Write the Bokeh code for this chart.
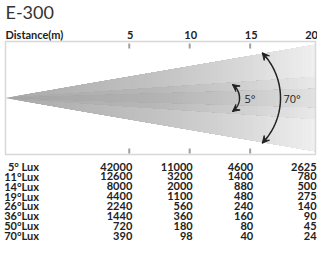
import numpy as np
from bokeh.plotting import figure
from bokeh.models import Range1d, Arrow, VeeHead
from bokeh.core.properties import value
from bokeh.embed import file_html
from bokeh.resources import INLINE

# ---------------- data ----------------
title = "E-300"
axis_label = "Distance(m)"
distances = [5, 10, 15, 20]
row_labels = ["5° Lux", "11°Lux", "14°Lux", "19°Lux", "26°Lux", "36°Lux", "50°Lux", "70°Lux"]
lux_5m = [42000, 12600, 8000, 4400, 2240, 1440, 720, 390]
lux_10m = [11000, 3200, 2000, 1100, 560, 360, 180, 98]
lux_15m = [4600, 1400, 880, 480, 240, 160, 80, 40]
lux_20m = [2625, 780, 500, 275, 140, 90, 45, 24]
beam_labels = ["5°", "70°"]

# ---------------- layout helpers ----------------
W, H = 317, 243
K = 12.09            # px per metre
X0 = -5.65           # metre at left edge of figure
PX_OFF = 8           # page offset

def m_of(px):        # page px -> metre
    return X0 + (px - PX_OFF) / K

p = figure(width=W, height=H, frame_width=W, frame_height=H,
           output_backend="svg", toolbar_location=None, title=None,
           x_axis_location=None, y_axis_location=None,
           x_range=Range1d(X0, X0 + W / K), y_range=Range1d(8 + H, 8),
           min_border=0, outline_line_color=None)
p.grid.visible = False
p.background_fill_color = "white"
p.border_fill_color = "white"

apex_m = m_of(13)
end_m = m_of(323)
yc = 105.5
box_top, box_bot = 49, 162

# ---------------- beam with gradient ----------------
def gray_hex(g):
    g = int(round(max(0, min(255, g))))
    return "#%02x%02x%02x" % (g, g, g)

wedges = [
    # slope (px/px), gray control points (page x, level)
    (0.172, [13, 50, 160, 240, 323], [168, 176, 194, 214, 240]),
    (0.068, [13, 50, 160, 240, 323], [166, 172, 183, 205, 234]),
    (0.030, [13, 50, 160, 240, 323], [164, 168, 178, 198, 226]),
]
n = 70
for slope, gx, gv in wedges:
    xs_list, ys_list, cols = [], [], []
    edges = np.linspace(apex_m, end_m, n + 1)[:-1]
    for xi in edges:
        h0 = slope * (xi - apex_m) * K
        h1 = slope * (end_m - apex_m) * K
        xs_list.append([xi, end_m, end_m, xi])
        ys_list.append([yc - h0, yc - h1, yc + h1, yc + h0])
        pxi = PX_OFF + (xi - X0) * K
        cols.append(gray_hex(np.interp(pxi, gx, gv)))
    p.patches(xs_list, ys_list, fill_color=cols, line_color=None)

# box border
p.quad(left=[apex_m], right=[end_m], top=[box_top], bottom=[box_bot],
       fill_color=None, line_color="#d8d8d8", line_width=1.5)

# inner tick marks
tick_d = distances[:-1]
p.segment(x0=tick_d, x1=tick_d, y0=[51] * 3, y1=[56] * 3, line_color="#a0a0a0", line_width=2)
p.segment(x0=tick_d, x1=tick_d, y0=[156] * 3, y1=[161] * 3, line_color="#a0a0a0", line_width=2)

# ---------------- angle arcs ----------------
def arc(peak_m, r_px, half_deg, label, label_gap):
    cx_px = PX_OFF + (peak_m - X0) * K - r_px
    th = np.radians(np.linspace(-half_deg, half_deg, 60))
    xs = [m_of(cx_px + r_px * np.cos(t)) for t in th]
    ys = [yc + r_px * np.sin(t) for t in th]
    p.line(xs, ys, line_color="#222222", line_width=1.5)
    for sgn in (-1, 1):
        t_end = np.radians(sgn * half_deg)
        t_in = np.radians(sgn * (half_deg - 6))
        head = VeeHead(size=7, fill_color="#222222", line_color="#222222", line_width=1)
        p.add_layout(Arrow(end=head,
                           x_start=m_of(cx_px + r_px * np.cos(t_in)), y_start=yc + r_px * np.sin(t_in),
                           x_end=m_of(cx_px + r_px * np.cos(t_end)), y_end=yc + r_px * np.sin(t_end),
                           line_color="#222222", line_width=1.5))
    p.text(x=[peak_m + label_gap / K], y=[yc], text=[label], text_font=value("Open Sans"),
           text_font_size="11px", text_color="#222222", text_baseline="middle", text_align="left")

arc(m_of(247), 16.5, 55, beam_labels[0], 5)
arc(m_of(288), 65, 44, beam_labels[1], 3)

# ---------------- texts ----------------
p.text(x=[apex_m], y=[8], text=[title], text_font=value("Lato"), text_font_size="18px",
       text_color="#333333", text_baseline="top", text_align="left")
p.text(x=[apex_m], y=[42], text=[axis_label], text_font=value("Lato"), text_font_size="11px",
       text_font_style="bold", text_color="#222222", text_baseline="middle", text_align="left")
p.text(x=distances, y=[42] * 4, text=[str(d) for d in distances], text_font=value("Lato"),
       text_font_size="11px", text_font_style="bold", text_color="#222222",
       text_baseline="middle", text_align="center", x_offset=1)

# ---------------- table ----------------
row_y = [174 + i * 9.86 for i in range(len(row_labels))]
p.text(x=[m_of(46.5)] * len(row_labels), y=row_y, text=row_labels, text_font=value("Lato"),
       text_font_size="11px", text_font_style="bold", text_color="#222222",
       text_baseline="middle", text_align="right")
for d, col in zip(distances, [lux_5m, lux_10m, lux_15m, lux_20m]):
    p.text(x=[d] * len(col), y=row_y, text=[str(v) for v in col], text_font=value("Lato"),
           text_font_size="11px", text_font_style="bold", text_color="#222222",
           text_baseline="middle", text_align="right", x_offset=3 if d < 20 else 6)

open("out.html", "w").write(file_html(p, INLINE))
